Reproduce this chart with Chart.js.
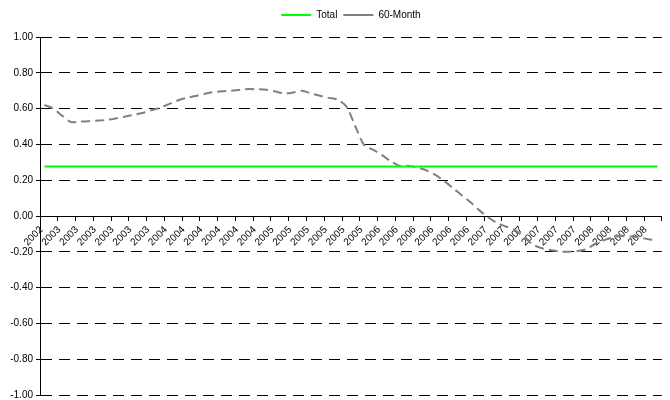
<!DOCTYPE html>
<html lang="en">
  <head>
    <meta charset="UTF-8" />
    <title>Total vs 60-Month</title>
  </head>
  <style>
    * {
      margin: 0;
      padding: 0;
    }
    body {
      background: #fff;
    }
    .chartBox {
      width: 670px;
      height: 400px;
    }
  </style>
  <body>
    <div class="chartBox">
      <canvas id="myChart"></canvas>
    </div>

    <script src="https://cdn.jsdelivr.net/npm/chart.js"></script>

    <script>
      // data block
      const months = [
        "2002-12",
        "2003-01", "2003-02", "2003-03", "2003-04", "2003-05", "2003-06",
        "2003-07", "2003-08", "2003-09", "2003-10", "2003-11", "2003-12",
        "2004-01", "2004-02", "2004-03", "2004-04", "2004-05", "2004-06",
        "2004-07", "2004-08", "2004-09", "2004-10", "2004-11", "2004-12",
        "2005-01", "2005-02", "2005-03", "2005-04", "2005-05", "2005-06",
        "2005-07", "2005-08", "2005-09", "2005-10", "2005-11", "2005-12",
        "2006-01", "2006-02", "2006-03", "2006-04", "2006-05", "2006-06",
        "2006-07", "2006-08", "2006-09", "2006-10", "2006-11", "2006-12",
        "2007-01", "2007-02", "2007-03", "2007-04", "2007-05", "2007-06",
        "2007-07", "2007-08", "2007-09", "2007-10", "2007-11", "2007-12",
        "2008-01", "2008-02", "2008-03", "2008-04", "2008-05", "2008-06",
        "2008-07", "2008-08", "2008-09"
      ];

      // one label for every second month
      const tickLabels = [
        "2002",
        "2003", "2003", "2003", "2003", "2003", "2003",
        "2004", "2004", "2004", "2004", "2004", "2004",
        "2005", "2005", "2005", "2005", "2005", "2005",
        "2006", "2006", "2006", "2006", "2006", "2006",
        "2007", "2007", "2007", "2007", "2007", "2007",
        "2008", "2008", "2008", "2008"
      ];

      const total = months.map(() => 0.276);

      const sixtyMonth = [
        0.62, 0.6, 0.56, 0.525, 0.527, 0.53, 0.533, 0.537, 0.545, 0.555,
        0.565, 0.575, 0.59, 0.605, 0.625, 0.645, 0.66, 0.67, 0.682, 0.692,
        0.697, 0.7, 0.705, 0.709, 0.708, 0.705, 0.695, 0.685, 0.69, 0.7,
        0.685, 0.672, 0.66, 0.65, 0.61, 0.5, 0.395, 0.37, 0.34, 0.305,
        0.28, 0.28, 0.27, 0.255, 0.23, 0.195, 0.155, 0.115, 0.075, 0.03,
        -0.01, -0.04, -0.06, -0.08, -0.12, -0.16, -0.18, -0.19, -0.198, -0.2,
        -0.195, -0.185, -0.155, -0.135, -0.12, -0.11, -0.115, -0.12, -0.13, -0.135
      ];

      const data = {
        labels: months,
        datasets: [
          {
            label: "Total",
            data: total,
            borderColor: "#00ff00",
            backgroundColor: "#00ff00",
            borderWidth: 2,
            pointRadius: 0,
            tension: 0
          },
          {
            label: "60-Month",
            data: sixtyMonth,
            borderColor: "#808080",
            backgroundColor: "#808080",
            borderWidth: 2,
            borderDash: [9, 5],
            pointRadius: 0,
            tension: 0.3
          }
        ]
      };

      const font = { family: "'Liberation Sans', Arial, sans-serif", size: 10 };

      // push the plot down below the legend
      const legendGap = {
        id: "legendGap",
        beforeInit(chart) {
          const fit = chart.legend.fit;
          chart.legend.fit = function () {
            fit.bind(chart.legend)();
            this.height += 7;
          };
        }
      };

      // config block
      const config = {
        type: "line",
        data,
        options: {
          responsive: false,
          animation: false,
          maintainAspectRatio: false,
          layout: { padding: { top: 4, right: 5 } },
          plugins: {
            legend: {
              position: "top",
              fullSize: false,
              labels: {
                usePointStyle: true,
                pointStyle: "line",
                pointStyleWidth: 30,
                boxHeight: 2,
                padding: 6,
                color: "#000",
                font
              }
            },
            tooltip: { enabled: false }
          },
          scales: {
            x: {
              position: { y: 0 },
              offset: true,
              afterFit(scale) {
                scale.height = 0;
              },
              grid: {
                offset: true,
                drawOnChartArea: false,
                drawTicks: true,
                tickLength: 4,
                tickColor: (ctx) =>
                  ctx.index === undefined || ctx.index % 2 === 0 ? "#000" : "rgba(0,0,0,0)"
              },
              border: { display: true, color: "#000", width: 1 },
              ticks: {
                autoSkip: false,
                minRotation: 45,
                maxRotation: 45,
                padding: 4,
                labelOffset: -3,
                color: "#000",
                font,
                callback: (value, index) => (index % 2 === 0 ? tickLabels[index / 2] : "")
              }
            },
            y: {
              min: -1,
              max: 1,
              afterFit(scale) {
                scale.width = 40;
                scale.paddingTop = 0;
                scale.paddingBottom = 5;
              },
              grid: {
                color: "#000",
                lineWidth: 1,
                tickLength: 4,
                tickColor: "#000"
              },
              border: { display: true, color: "#000", width: 1, dash: [11, 7] },
              ticks: {
                stepSize: 0.2,
                padding: 3,
                color: "#000",
                font,
                callback: (v) => (Math.abs(v) < 1e-9 ? 0 : v).toFixed(2)
              }
            }
          }
        },
        plugins: [legendGap]
      };

      // init render block
      const canvas = document.getElementById("myChart");
      canvas.width = 670;
      canvas.height = 400;
      const myChart = new Chart(canvas, config);
    </script>
  </body>
</html>
